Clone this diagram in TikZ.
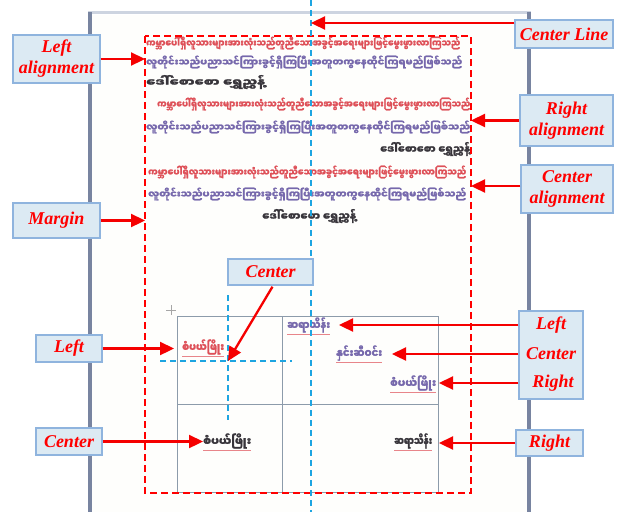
\documentclass[tikz,border=0pt]{standalone}
\usepackage{fontspec}
\usepackage{graphicx}
\setmainfont{Liberation Serif}
\newfontfamily\mya[Script=Myanmar,FakeBold=2.2]{Noto Sans Myanmar UI}
\usetikzlibrary{arrows.meta,calc}

\definecolor{tagfill}{RGB}{220,234,243}
\definecolor{tagedge}{RGB}{143,180,222}
\definecolor{guide}{RGB}{30,165,225}
\definecolor{pagebar}{RGB}{120,132,160}
\definecolor{pagetop}{RGB}{205,212,224}
\definecolor{paper}{RGB}{254,254,252}
\definecolor{txtred}{RGB}{222,80,88}
\definecolor{txtpur}{RGB}{118,104,172}
\definecolor{txtdark}{RGB}{55,52,58}
\definecolor{gridline}{RGB}{140,155,170}
\definecolor{arrowred}{RGB}{245,0,0}

\tikzset{
  tag/.style={draw=tagedge, fill=tagfill, line width=1.4pt, inner sep=0pt,
    text=red, font=\fontsize{18}{21}\selectfont\bfseries\itshape, align=center},
  tagtext/.style={text=red, font=\fontsize{18}{21}\selectfont\bfseries\itshape, inner sep=0pt},
  pointer/.style={draw=arrowred, line width=2.3pt,
    -{Triangle[length=14pt,width=13pt]}},
  guideline/.style={draw=guide, line width=1.3pt, dash pattern=on 6pt off 4pt},
  marginline/.style={draw=red, line width=1.5pt, dash pattern=on 7pt off 4pt},
  para/.style={anchor=west, inner sep=0pt},
  cell/.style={anchor=west, inner sep=0pt},
}

% one line of Burmese body text squeezed to a given width and height
\newcommand{\bline}[3]{\resizebox{#1}{#2}{\mya\bfseries #3}}

\begin{document}
\begin{tikzpicture}[x=1pt,y=-1pt]
\useasboundingbox (0,0) rectangle (618,512);
\fill[white] (0,0) rectangle (618,512);

% page of the document
\fill[paper] (92,15) rectangle (527,512);
\fill[pagetop] (88,11) rectangle (531,14);
\fill[pagebar] (88,12) rectangle (92,512);
\fill[pagebar] (527,12) rectangle (531,512);

% paragraph text
\node[para] (p1) at (146,43) {\bline{314pt}{10pt}{\color{txtred}ကမ္ဘာပေါ်ရှိလူသားများအားလုံးသည်တူညီသောအခွင့်အရေးများဖြင့်မွေးဖွားလာကြသည်}};
\node[para] (p2) at (146,62) {\bline{316pt}{10pt}{\color{txtpur}လူတိုင်းသည်ပညာသင်ကြားခွင့်ရှိကြပြီးအတူတကွနေထိုင်ကြရမည်ဖြစ်သည်}};
\node[para] (p3) at (146,82) {\bline{119pt}{11pt}{\color{txtdark}ဒေါ်စောစော ရွှေညွှန့်}};

\node[para] (p4) at (157,104) {\bline{313pt}{10pt}{\color{txtred}ကမ္ဘာပေါ်ရှိလူသားများအားလုံးသည်တူညီသောအခွင့်အရေးများဖြင့်မွေးဖွားလာကြသည်}};
\node[para] (p5) at (146,127) {\bline{324pt}{10pt}{\color{txtpur}လူတိုင်းသည်ပညာသင်ကြားခွင့်ရှိကြပြီးအတူတကွနေထိုင်ကြရမည်ဖြစ်သည်}};
\node[para] (p6) at (380,149) {\bline{90pt}{11pt}{\color{txtdark}ဒေါ်စောစော ရွှေညွှန့်}};

\node[para] (p7) at (148,172) {\bline{318pt}{10pt}{\color{txtred}ကမ္ဘာပေါ်ရှိလူသားများအားလုံးသည်တူညီသောအခွင့်အရေးများဖြင့်မွေးဖွားလာကြသည်}};
\node[para] (p8) at (148,194) {\bline{318pt}{10pt}{\color{txtpur}လူတိုင်းသည်ပညာသင်ကြားခွင့်ရှိကြပြီးအတူတကွနေထိုင်ကြရမည်ဖြစ်သည်}};
\node[para] (p9) at (262,216) {\bline{94pt}{11pt}{\color{txtdark}ဒေါ်စောစော ရွှေညွှန့်}};

% table
\draw[gridline, line width=1pt] (177,316) rectangle (438,492);
\draw[gridline, line width=1pt] (282,316) -- (282,492);
\draw[gridline, line width=1pt] (177,404) -- (438,404);
% table move handle
\draw[gray!70, line width=1pt] (166,310) -- (176,310) (171,305) -- (171,315);

% cell texts
\node[cell] (c1) at (182,347) {\bline{42pt}{12pt}{\color{txtred}စံပယ်ဖြိုး}};
\node[cell] (c2) at (287,325) {\bline{43pt}{12pt}{\color{txtpur}ဆရာသိန်း}};
\node[cell] (c3) at (336,353) {\bline{46pt}{12pt}{\color{txtpur}နှင်းဆီဝင်း}};
\node[cell] (c4) at (390,383) {\bline{46pt}{12pt}{\color{txtpur}စံပယ်ဖြိုး}};
\node[cell] (c5) at (203,441) {\bline{48pt}{12pt}{\color{txtdark}စံပယ်ဖြိုး}};
\node[cell] (c6) at (394,441) {\bline{38pt}{12pt}{\color{txtdark}ဆရာသိန်း}};
% spelling marks under the cell texts
\foreach \c in {c1,c2,c3,c4,c5,c6}
  \draw[txtred!70, line width=0.7pt] ($(\c.south west)+(0,2)$) -- ($(\c.south east)+(0,2)$);

% margin and guide lines
\draw[marginline] (145,36) rectangle (471,493);
\draw[guideline] (311,0) -- (311,512);
\draw[guideline] (228,295) -- (228,420);
\draw[guideline] (160,361) -- (292,361);

% callout tags
\node[tag, minimum width=87pt, minimum height=48pt] (tLeftAl) at (56.5,59) {Left\\alignment};
\node[tag, minimum width=87pt, minimum height=35pt] (tMargin) at (56.5,220.5) {Margin};
\node[tag, minimum width=98pt, minimum height=28pt] (tCLine) at (564,34) {Center Line};
\node[tag, minimum width=93pt, minimum height=51pt] (tRightAl) at (566.5,120.5) {Right\\alignment};
\node[tag, minimum width=92pt, minimum height=48pt] (tCenterAl) at (567,189) {Center\\alignment};
\node[tag, minimum width=85pt, minimum height=26pt] (tCenterTop) at (270.5,272) {Center};
\node[tag, minimum width=66pt, minimum height=27pt] (tLeft) at (69,348.5) {Left};
\node[tag, minimum width=66pt, minimum height=27pt] (tCenterBot) at (69,441.5) {Center};
\node[tag, minimum width=64pt, minimum height=88pt] (tLCR) at (551,355) {\phantom{Center}};
\node[tagtext] (wL) at (551,325) {Left};
\node[tagtext] (wC) at (551,354) {Center};
\node[tagtext] (wR) at (553,383) {Right};
\node[tag, minimum width=67pt, minimum height=26pt] (tRight) at (549.5,443) {Right};

% arrow targets
\coordinate (aLeftAl) at (145,59);
\coordinate (aMargin) at (145,220.5);
\coordinate (aCLine) at (311,23);
\coordinate (aRightAl) at (471,120.5);
\coordinate (aCenterAl) at (471,186);
\coordinate (aCenterTop) at (228,361);
\coordinate (aLeft) at (174,348.5);
\coordinate (aCenterBot) at (203,441.5);
\coordinate (aL) at (339,325);
\coordinate (aC) at (392,354);
\coordinate (aR) at (439,383);
\coordinate (aRight) at (439,443);

% arrows
\draw[pointer] (tLeftAl.east) -- (aLeftAl);
\draw[pointer] (tMargin.east) -- (aMargin);
\draw[pointer] (tCLine.west |- aCLine) -- (aCLine);
\draw[pointer] (tRightAl.west) -- (aRightAl);
\draw[pointer] (tCenterAl.west |- aCenterAl) -- (aCenterAl);
\draw[pointer] ($(tCenterTop.south)+(2,1)$) -- (aCenterTop);
\draw[pointer] (tLeft.east) -- (aLeft);
\draw[pointer] (tCenterBot.east) -- (aCenterBot);
\draw[pointer] (tLCR.west |- aL) -- (aL);
\draw[pointer] (tLCR.west |- aC) -- (aC);
\draw[pointer] (tLCR.west |- aR) -- (aR);
\draw[pointer] (tRight.west) -- (aRight);
\end{tikzpicture}
\end{document}
